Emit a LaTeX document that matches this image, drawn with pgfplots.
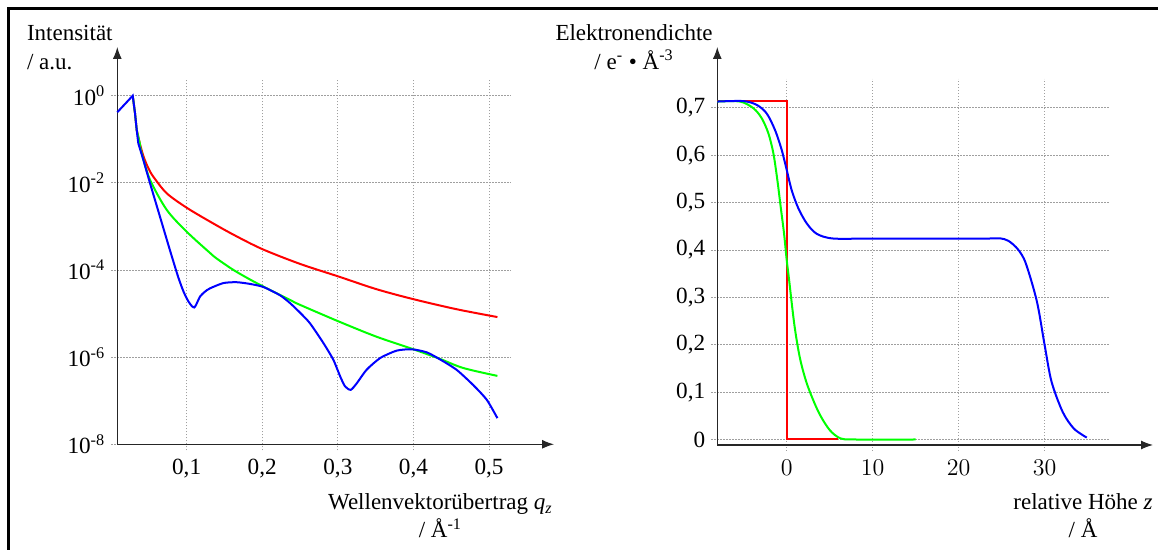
\documentclass[border=0pt]{standalone}
\usepackage{fontspec}
\setmainfont{Liberation Serif}
\usepackage{pgfplots}
\pgfplotsset{compat=1.18}
\usetikzlibrary{arrows.meta}

\pgfplotsset{
  refl/.style={
    scale only axis, axis lines=left, enlargelimits=false, clip=false,
    grid=major,
    major grid style={gray!75, line width=0.4pt, dash pattern=on 0.6pt off 0.9pt},
    tick align=outside, major tick length=3pt, minor tick num=0,
    tick style={gray!75, line width=0.4pt, dash pattern=on 0.6pt off 0.9pt},
    x axis line style={black!85, line width=0.55pt, -{Latex[length=6pt,width=4.5pt]}, shorten >=-21.5pt},
    y axis line style={black!85, line width=0.55pt, -{Latex[length=6pt,width=4.5pt]}, shorten >=-16pt},
    xticklabel style={yshift=-1pt},
    yticklabel style={xshift=0.5pt},
    tick label style={font=\fontsize{11.6}{13}\selectfont},
  },
  curve/.style={line width=1pt},
}

\begin{document}
\begin{tikzpicture}[font=\fontsize{11.5}{13.8}\selectfont]
\useasboundingbox (0,0) rectangle (579pt,275pt);
% frame, cut at right and bottom
\draw[line width=1.35pt] (4.35pt,0pt) -- (4.35pt,270.65pt) -- (579pt,270.65pt);

% reflectivity curves
\begin{axis}[refl, name=L, at={(58.65pt,52.85pt)}, anchor=south west,
  width=196.85pt, height=182.65pt,
  xmin=0.0083, xmax=0.529, ymode=log, ymin=1e-8, ymax=2.42,
  xtick={0.1,0.2,0.3,0.4,0.5},
  xticklabels={{0,1},{0,2},{0,3},{0,4},{0,5}},
  ytick={1e-8,1e-6,1e-4,1e-2,1},
  yticklabels={10\textsuperscript{-8},10\textsuperscript{-6},10\textsuperscript{-4},10\textsuperscript{-2},10\textsuperscript{0}},
]
% red
\addplot[curve, red] coordinates {(0.0287,1) (0.0317,0.3981) (0.034,0.1622) (0.038,0.08128)};
\addplot[curve, red, smooth, tension=0.5] coordinates {
 (0.038,0.08128) (0.0427,0.04169) (0.049,0.02239) (0.056,0.01380) (0.0737,0.005754)
 (0.1,0.002692) (0.131,0.001288) (0.162,6.457e-4) (0.2,3.020e-4) (0.25,1.380e-4)
 (0.301,7.079e-5) (0.351,3.631e-5) (0.4,2.138e-5) (0.457,1.259e-5) (0.511,8.318e-6)};
% green
\addplot[curve, green] coordinates {(0.0287,1) (0.0317,0.3981) (0.034,0.1622) (0.038,0.08128)};
\addplot[curve, green, smooth, tension=0.5] coordinates {
 (0.038,0.08128) (0.0405,0.04786) (0.0516,0.01175) (0.0737,0.002399) (0.1,7.586e-4)
 (0.131,2.455e-4) (0.14,1.820e-4) (0.162,1.0e-4) (0.184,6.026e-5) (0.2015,4.169e-5)
 (0.237,2.042e-5) (0.25,1.585e-5) (0.301,6.607e-6) (0.351,2.951e-6) (0.4,1.514e-6)
 (0.435,9.120e-7) (0.466,5.623e-7) (0.511,3.715e-7)};
% blue
\addplot[curve, blue] coordinates {(0.0083,0.4169) (0.0287,1) (0.0317,0.3981) (0.034,0.1622) (0.036,0.08128)};
\addplot[curve, blue, smooth, tension=0.4] coordinates {
 (0.036,0.08128) (0.0427,0.03388) (0.0516,0.009772) (0.0648,0.00166) (0.078,2.818e-4)
 (0.089,6.761e-5) (0.096,3.162e-5) (0.1023,1.905e-5) (0.107,1.479e-5) (0.110,1.380e-5)
 (0.1125,1.585e-5) (0.1177,2.455e-5) (0.124,3.162e-5) (0.131,3.802e-5) (0.1486,5.012e-5)
 (0.166,5.248e-5) (0.184,4.786e-5) (0.2015,4.074e-5) (0.2235,2.630e-5) (0.2368,1.738e-5)
 (0.25,1.047e-5) (0.263,6.026e-6) (0.281,2.089e-6) (0.294,8.710e-7) (0.303,3.631e-7)
 (0.3095,2.138e-7) (0.317,1.778e-7) (0.325,2.512e-7) (0.338,5.129e-7) (0.356,9.550e-7)
 (0.378,1.413e-6) (0.398,1.514e-6) (0.4176,1.288e-6) (0.435,8.913e-7) (0.457,5.129e-7)
 (0.479,2.291e-7) (0.497,1.047e-7) (0.511,3.981e-8)};
\end{axis}

% electron density profiles
\begin{axis}[refl, name=R, at={(358.65pt,52.5pt)}, anchor=south west,
  width=196.35pt, height=183pt,
  xmin=-8.07, xmax=37.6, ymin=-0.0116, ymax=0.7606,
  xtick={0,10,20,30},
  ytick={0,0.1,0.2,0.3,0.4,0.5,0.6,0.7},
  yticklabels={0,{0,1},{0,2},{0,3},{0,4},{0,5},{0,6},{0,7}},
]
\addplot[curve, red] coordinates {(-8.07,0.714) (0,0.714) (0,0) (6,0)};
\addplot[curve, green, smooth, tension=0.5] coordinates {
 (-8.07,0.713) (-5.43,0.713) (-3.88,0.699) (-2.91,0.678) (-2.13,0.646) (-1.55,0.604)
 (-1.09,0.548) (-0.70,0.491) (-0.31,0.435) (0,0.379) (0.26,0.340) (0.9,0.241)
 (1.55,0.171) (2.4,0.115) (3.7,0.058) (5.0,0.020) (6.3,0.002) (8,0) (15,0)};
\addplot[curve, blue, smooth, tension=0.5] coordinates {
 (-8.07,0.713) (-5.05,0.714) (-3.49,0.706) (-2.33,0.688) (-1.36,0.653) (-0.58,0.611)
 (0,0.569) (0.58,0.526) (1.35,0.488) (2.33,0.456) (3.49,0.434) (5.42,0.424)
 (10,0.424) (20,0.424) (23.5,0.424) (24.8,0.4245) (25.8,0.419) (26.9,0.401)
 (27.8,0.372) (29.1,0.291) (30.0,0.199) (30.8,0.122) (32.1,0.058) (33.4,0.023) (34.9,0.004)};
\end{axis}

% axis labels
\node[anchor=base west, inner sep=0pt] at (13.3pt,254.65pt) {Intensität};
\node[anchor=base west, inner sep=0pt] at (13.3pt,240pt) {/ a.u.};
\node[anchor=base east, inner sep=0pt] (el) at (356.5pt,254.65pt) {Elektronendichte};
\node[anchor=base, inner sep=0pt] at ([yshift=-14.5pt]el.base) {/ e\textsuperscript{-} • Å\textsuperscript{-3}};
\node[anchor=base east, inner sep=0pt] (wl) at (276.5pt,20pt) {Wellenvektorübertrag \textit{q}\textsubscript{\textit{z}}};
\node[anchor=base, inner sep=0pt] at ([yshift=-14pt]wl.base) {/ Å\textsuperscript{-1}};
\node[anchor=base east, inner sep=0pt] (rh) at (576.5pt,20pt) {relative Höhe \textit{z}};
\node[anchor=base, inner sep=0pt] at ([yshift=-14pt]rh.base) {/ Å};
\end{tikzpicture}
\end{document}
